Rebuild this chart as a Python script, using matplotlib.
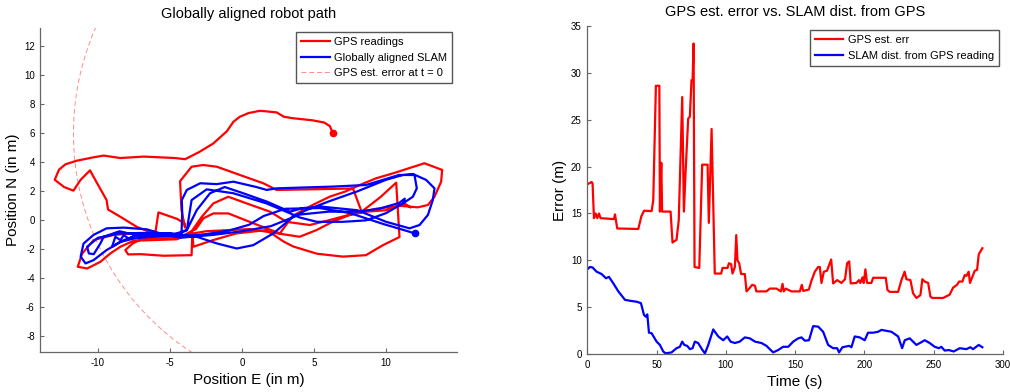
import numpy as np
import matplotlib
matplotlib.use('Agg')
import matplotlib.pyplot as plt

plt.rcParams['font.family'] = ['Liberation Sans', 'DejaVu Sans']
plt.rcParams['axes.unicode_minus'] = False

# GPS readings (E, N) in metres, starting at the t = 0 fix
gps_path = [
    (6.3, 6.0), (6.1, 6.5), (5.7, 6.75), (4.9, 6.9), (3.5, 7.05), (2.9, 7.15), (2.4, 7.45),
    (1.25, 7.56), (0.45, 7.4), (-0.15, 7.15), (-0.6, 6.8), (-1.05, 6.15), (-2.0, 5.3),
    (-3.0, 4.7), (-3.95, 4.22), (-4.65, 4.3), (-6.8, 4.4), (-8.45, 4.3), (-9.6, 4.47),
    (-10.3, 4.35), (-11.45, 4.12), (-12.25, 3.87), (-12.7, 3.5), (-13.0, 2.8), (-12.35, 2.3),
    (-11.7, 2.05), (-11.2, 2.8), (-10.55, 3.45), (-10.05, 2.55), (-9.4, 1.4), (-9.3, 0.75),
    (-8.45, 0.25), (-7.3, -0.45), (-6.4, -0.8), (-6.0, -0.75), (-5.8, 0.55), (-4.5, 0.1),
    (-4.0, -0.2), (-3.95, -0.5), (-4.2, 0.7), (-4.3, 2.7), (-3.5, 3.7), (-2.7, 3.82),
    (-1.75, 3.7), (-0.15, 3.13), (1.5, 2.55), (2.4, 2.1), (4.7, 2.14), (7.7, 2.2), (8.3, 0.6),
    (9.6, 1.6), (10.7, 2.6), (10.93, -1.15), (9.8, -1.7), (8.6, -2.4), (7.0, -2.5),
    (5.2, -2.3), (3.55, -1.8), (2.9, -1.47), (1.7, -0.67), (-0.4, -0.9), (-2.0, -1.36),
    (-3.37, -1.82), (-3.45, -0.9), (-3.5, -2.4), (-5.44, -2.44), (-7.06, -2.33), (-7.9, -2.35),
    (-8.1, -2.05), (-7.6, -1.6), (-7.0, -1.3), (-6.0, -1.2), (-4.3, -1.2), (-6.0, -0.95),
    (-7.5, -0.9), (-8.9, -1.0), (-10.3, -1.36), (-11.1, -2.3), (-11.4, -3.2), (-10.75, -3.32),
    (-9.83, -2.86), (-9.14, -2.28), (-8.44, -1.82), (-7.52, -1.4), (-6.14, -1.36), (-4.5, -1.3),
    (-3.6, -0.9), (-2.79, 0.25), (-1.99, 1.17), (-0.95, 1.63), (0.32, 1.17), (1.94, 0.6),
    (3.09, -0.1), (4.7, -0.32), (6.0, 0.0), (7.5, 0.4), (9.3, 0.8), (11.0, 1.0), (12.2, 0.9),
    (12.9, 1.06), (13.36, 1.63), (13.82, 2.67), (13.89, 3.48), (12.66, 3.94), (11.6, 3.6),
    (10.5, 3.25), (9.3, 2.9), (8.2, 2.45), (7.2, 2.0), (6.1, 1.64), (4.9, 1.06), (3.5, 0.3),
    (2.63, -0.9), (0.78, -0.2), (-0.95, 0.48), (-1.99, 0.48), (-2.68, 0.14), (-3.2, -0.6),
    (-4.0, -1.0), (-2.5, -0.75), (0.5, -0.6), (4.0, -1.13), (5.17, -0.67), (6.3, -0.09),
    (7.47, 0.37), (8.63, 0.6), (10.0, 0.7), (11.3, 1.15), (11.7, 0.9),
]

# globally aligned SLAM trajectory (E, N)
slam_path = [
    (12.0, -0.9), (11.0, -0.6), (9.8, -0.25), (7.5, 0.5), (5.4, 0.85), (3.0, 0.8), (1.5, 0.3),
    (0.5, -0.3), (-0.9, -0.7), (-2.5, -0.95), (-4.3, -1.1), (-5.5, -0.95), (-6.6, -0.62),
    (-8.2, -0.5), (-9.4, -0.55), (-10.3, -1.0), (-11.0, -1.6), (-11.2, -2.5), (-10.86, -2.97),
    (-10.3, -2.74), (-9.4, -2.05), (-8.2, -1.36), (-7.06, -0.95), (-5.5, -0.9), (-4.2, -0.95),
    (-4.15, 0.5), (-4.18, 1.4), (-3.83, 2.1), (-2.9, 2.56), (-1.75, 2.5), (-0.6, 2.67),
    (1.0, 2.3), (1.71, 2.1), (2.4, 2.21), (6.3, 2.33), (8.6, 2.44), (10.9, 3.13), (11.97, 3.13),
    (12.13, 2.21), (11.86, 1.63), (11.16, 1.17), (10.0, 0.5), (8.6, 0.0), (7.0, -0.1),
    (5.2, -0.1), (4.0, 0.2), (3.3, 0.5), (1.7, 1.17), (-0.6, 1.87), (-2.45, 2.14), (-3.5, 1.4),
    (-3.83, -0.67), (-4.5, -1.0), (-6.0, -1.1), (-7.5, -1.25), (-8.5, -1.5), (-9.02, -1.82),
    (-8.79, -1.13), (-8.44, -1.36), (-8.21, -1.02), (-7.87, -1.25), (-7.0, -0.9), (-5.0, -0.9),
    (-3.14, -1.13), (-1.75, -1.59), (-0.37, -1.94), (0.78, -1.71), (2.17, -0.9), (3.55, 0.25),
    (4.47, 0.71), (6.0, 1.3), (8.0, 2.0), (10.0, 2.8), (11.16, 3.13), (11.86, 3.2),
    (12.78, 2.79), (13.36, 2.21), (13.24, 1.4), (12.9, 0.37), (12.32, -0.32), (11.63, -0.55),
    (10.0, -0.1), (8.0, 0.7), (5.5, 0.95), (4.24, 0.85), (3.32, 0.6), (1.71, 1.3), (0.0, 1.9),
    (-1.2, 2.3), (-2.22, 1.87), (-3.14, 0.71), (-3.83, -0.67), (-5.0, -1.05), (-7.0, -1.1),
    (-8.5, -0.75), (-9.6, -1.13), (-9.83, -1.59), (-10.29, -2.33), (-10.63, -2.28),
    (-10.75, -1.82), (-10.0, -1.2), (-8.5, -0.9), (-6.0, -0.85), (-4.3, -1.2), (-2.0, -1.0),
    (0.0, -0.75), (2.0, -0.4), (4.0, 0.4), (6.0, 0.6), (8.0, 0.6), (9.5, 0.8), (10.9, 1.2),
    (11.3, 1.5), (11.2, 1.2),
]

gps_err_at_t0 = 18.0  # radius of the dashed circle, centred on the first GPS fix

# GPS estimated error over time
gps_err_t = [0, 3.1, 3.8, 4.8, 6, 7.2, 8.4, 9.6, 19.2, 20, 21.6, 36.8, 39, 41, 46.4, 47.6, 49.5,
             52, 52.4, 53.4, 54, 60.1, 61.5, 64.4, 66, 68.5, 69.7, 70.9, 72.8, 74, 75.2, 76, 76.7,
             77.4, 80.8, 82.9, 86.8, 87.7, 89.7, 92, 96.6, 97.6, 101.2, 102.2, 103.8, 104.8,
             106.5, 107.5, 108.4, 109.6, 111, 113.7, 114.9, 116.8, 119, 121, 122, 129.3, 131.7,
             136.5, 139.7, 140.9, 141.8, 143.3, 145.2, 147.4, 153.4, 154.8, 155.8, 159.9, 161.8,
             164.2, 166.6, 167.8, 169, 170.7, 173, 176, 177.4, 180.3, 183.4, 186, 187.5, 189,
             190.1, 194.2, 196, 197, 198.6, 199.5, 200.7, 201.9, 205, 206.3, 215.4, 216.6, 218.3,
             224.3, 226.7, 229, 230.3, 233.2, 235.1, 237.5, 240.4, 241.8, 243.5, 246, 247.6, 249,
             256.7, 261.5, 264, 266.8, 268.3, 270.7, 272.4, 273.6, 275.2, 276.2, 277.9, 279.6,
             281.3, 282.5, 285.1]
gps_err = [18.1, 18.35, 18.2, 14.5, 15.0, 14.5, 15.0, 14.5, 14.4, 14.9, 13.4, 13.35, 14.7, 15.3,
           15.25, 16.4, 28.6, 28.6, 15.2, 20.4, 15.2, 15.2, 11.9, 12.2, 14.3, 27.4, 15.2, 19.3,
           25.1, 25.3, 29.2, 29.2, 33.1, 9.3, 9.2, 20.2, 20.2, 14.0, 24.0, 8.6, 8.6, 9.2, 9.2, 9.7,
           9.6, 8.6, 9.3, 12.7, 10.0, 9.7, 8.55, 8.55, 6.7, 7.0, 7.4, 7.3, 6.7, 6.7, 7.0, 7.0, 6.7,
           7.5, 6.7, 7.0, 6.85, 6.7, 6.7, 7.4, 6.75, 6.9, 7.85, 8.8, 9.3, 9.3, 7.6, 8.8, 8.9, 10.1,
           7.55, 7.9, 7.6, 8.0, 9.7, 9.9, 7.55, 7.6, 7.9, 7.6, 8.2, 7.6, 9.05, 7.6, 7.6, 8.15, 8.15,
           6.85, 6.65, 6.65, 7.9, 8.8, 8.0, 7.9, 6.5, 6.0, 6.3, 8.0, 7.75, 7.6, 6.15, 6.0, 6.0,
           6.35, 7.1, 7.4, 7.75, 7.75, 8.45, 8.35, 8.8, 7.6, 8.25, 8.9, 9.0, 10.65, 11.3]

# SLAM distance from GPS reading over time
slam_dist_t = [0, 1.9, 3.8, 6.7, 10.3, 13.5, 15.6, 18.8, 22.4, 27.2, 30.8, 35.6, 38.7, 40.9, 42.3,
               43.3, 44.5, 46.4, 50, 52.4, 54.8, 56.5, 60.8, 64.4, 66.8, 68.5, 70, 72.1, 74, 76,
               77.6, 80, 82.9, 84.9, 87.3, 90.9, 94.5, 98.1, 101, 103.4, 106.5, 110, 113.7, 117.3,
               121, 125.7, 129.3, 134.1, 137.7, 141.3, 145, 148.6, 152.2, 154.6, 157, 160, 163,
               166.6, 170.2, 173.8, 177.4, 180.3, 181.7, 184.1, 189, 190.6, 193, 196.6, 200.2,
               202.6, 206.3, 209.9, 212.3, 215.9, 219.5, 224.3, 227.2, 229.1, 232.7, 237.5, 240,
               243.5, 247.1, 250.7, 253.8, 255.5, 257.9, 261, 264.4, 268.8, 273.6, 276.4, 278.4,
               282.5, 285.1]
slam_dist = [9.05, 9.3, 9.25, 8.8, 8.55, 8.1, 8.25, 7.55, 6.7, 5.8, 5.7, 5.6, 5.45, 4.2, 4.0,
             4.25, 2.3, 2.25, 1.35, 1.0, 0.3, 0.1, 0.2, 0.65, 0.8, 1.35, 1.0, 0.9, 0.55, 0.65, 1.35,
             1.2, 0.5, 0.1, 1.0, 2.65, 1.9, 1.5, 1.9, 1.35, 1.2, 1.35, 1.8, 1.7, 1.35, 1.2, 0.9, 0.2,
             0.45, 0.8, 0.8, 1.35, 1.7, 1.8, 1.45, 1.5, 3.0, 2.95, 2.4, 1.0, 0.65, 0.65, 0.2, 0.75,
             0.9, 0.75, 1.9, 1.8, 1.5, 2.3, 2.3, 2.4, 2.6, 2.5, 2.4, 1.9, 0.65, 1.5, 1.7, 1.0, 1.2,
             1.5, 1.2, 0.8, 0.65, 0.8, 0.4, 0.45, 0.3, 0.65, 0.55, 0.75, 0.55, 1.0, 0.75]

RED, BLUE, PALE = '#ff0000', '#0000ff', '#ff8c8c'
SPINE = '#666666'


def style_axes(ax):
    for s in ('top', 'right'):
        ax.spines[s].set_visible(False)
    for s in ('left', 'bottom'):
        ax.spines[s].set_color(SPINE)
        ax.spines[s].set_linewidth(0.9)
    ax.tick_params(direction='in', length=3, width=0.8, color=SPINE, labelsize=7, pad=4)


def add_legend(ax, anchor):
    ax.legend(loc='upper right', bbox_to_anchor=anchor, bbox_transform=fig.transFigure,
              borderaxespad=0, fontsize=8, fancybox=False, edgecolor='#555555', framealpha=1,
              handlelength=2.6, labelspacing=0.5, borderpad=0.45, handletextpad=0.4)


fig = plt.figure(figsize=(10.1, 3.92), dpi=100)

# left: robot path
ax1 = fig.add_axes([40.3 / 1010, 1 - 352 / 392, 416.4 / 1010, 324 / 392])
gps = np.array(gps_path)
slam = np.array(slam_path)
ax1.plot(gps[:, 0], gps[:, 1], color=RED, lw=1.6, label='GPS readings', zorder=3)
ax1.plot(slam[:, 0], slam[:, 1], color=BLUE, lw=1.6, label='Globally aligned SLAM', zorder=4)
theta = np.linspace(0, 2 * np.pi, 721)
ax1.plot(gps[0, 0] + gps_err_at_t0 * np.cos(theta), gps[0, 1] + gps_err_at_t0 * np.sin(theta),
         color=PALE, lw=0.7, ls=(0, (5, 3)), label='GPS est. error at t = 0', zorder=2)
ax1.plot(gps[0, 0], gps[0, 1], 'o', color=RED, ms=4.5, zorder=5)
ax1.plot(slam[0, 0], slam[0, 1], 'o', color=BLUE, ms=4.5, zorder=5)
ax1.set_xlim(-14, 14.9)
ax1.set_ylim(-9.08, 13.27)
ax1.set_xticks([-10, -5, 0, 5, 10])
ax1.set_yticks(range(-8, 13, 2))
style_axes(ax1)
ax1.set_title('Globally aligned robot path', fontsize=10.5, pad=7)
ax1.set_xlabel('Position E (in m)', fontsize=11, labelpad=4)
ax1.set_ylabel('Position N (in m)', fontsize=11, labelpad=3)
add_legend(ax1, (452 / 1010, 1 - 32 / 392))

# right: error over time
ax2 = fig.add_axes([587.3 / 1010, 1 - 354.3 / 392, 415.7 / 1010, 328.6 / 392])
ax2.plot(gps_err_t, gps_err, color=RED, lw=1.6, label='GPS est. err')
ax2.plot(slam_dist_t, slam_dist, color=BLUE, lw=1.6, label='SLAM dist. from GPS reading')
ax2.set_xlim(0, 300)
ax2.set_ylim(0, 35)
ax2.set_xticks(range(0, 301, 50))
ax2.set_yticks(range(0, 36, 5))
style_axes(ax2)
ax2.set_title('GPS est. error vs. SLAM dist. from GPS', fontsize=10.5, pad=7)
ax2.set_xlabel('Time (s)', fontsize=11, labelpad=4)
ax2.set_ylabel('Error (m)', fontsize=11, labelpad=3)
add_legend(ax2, (999 / 1010, 1 - 30 / 392))

fig.savefig('out.png', dpi=100)
